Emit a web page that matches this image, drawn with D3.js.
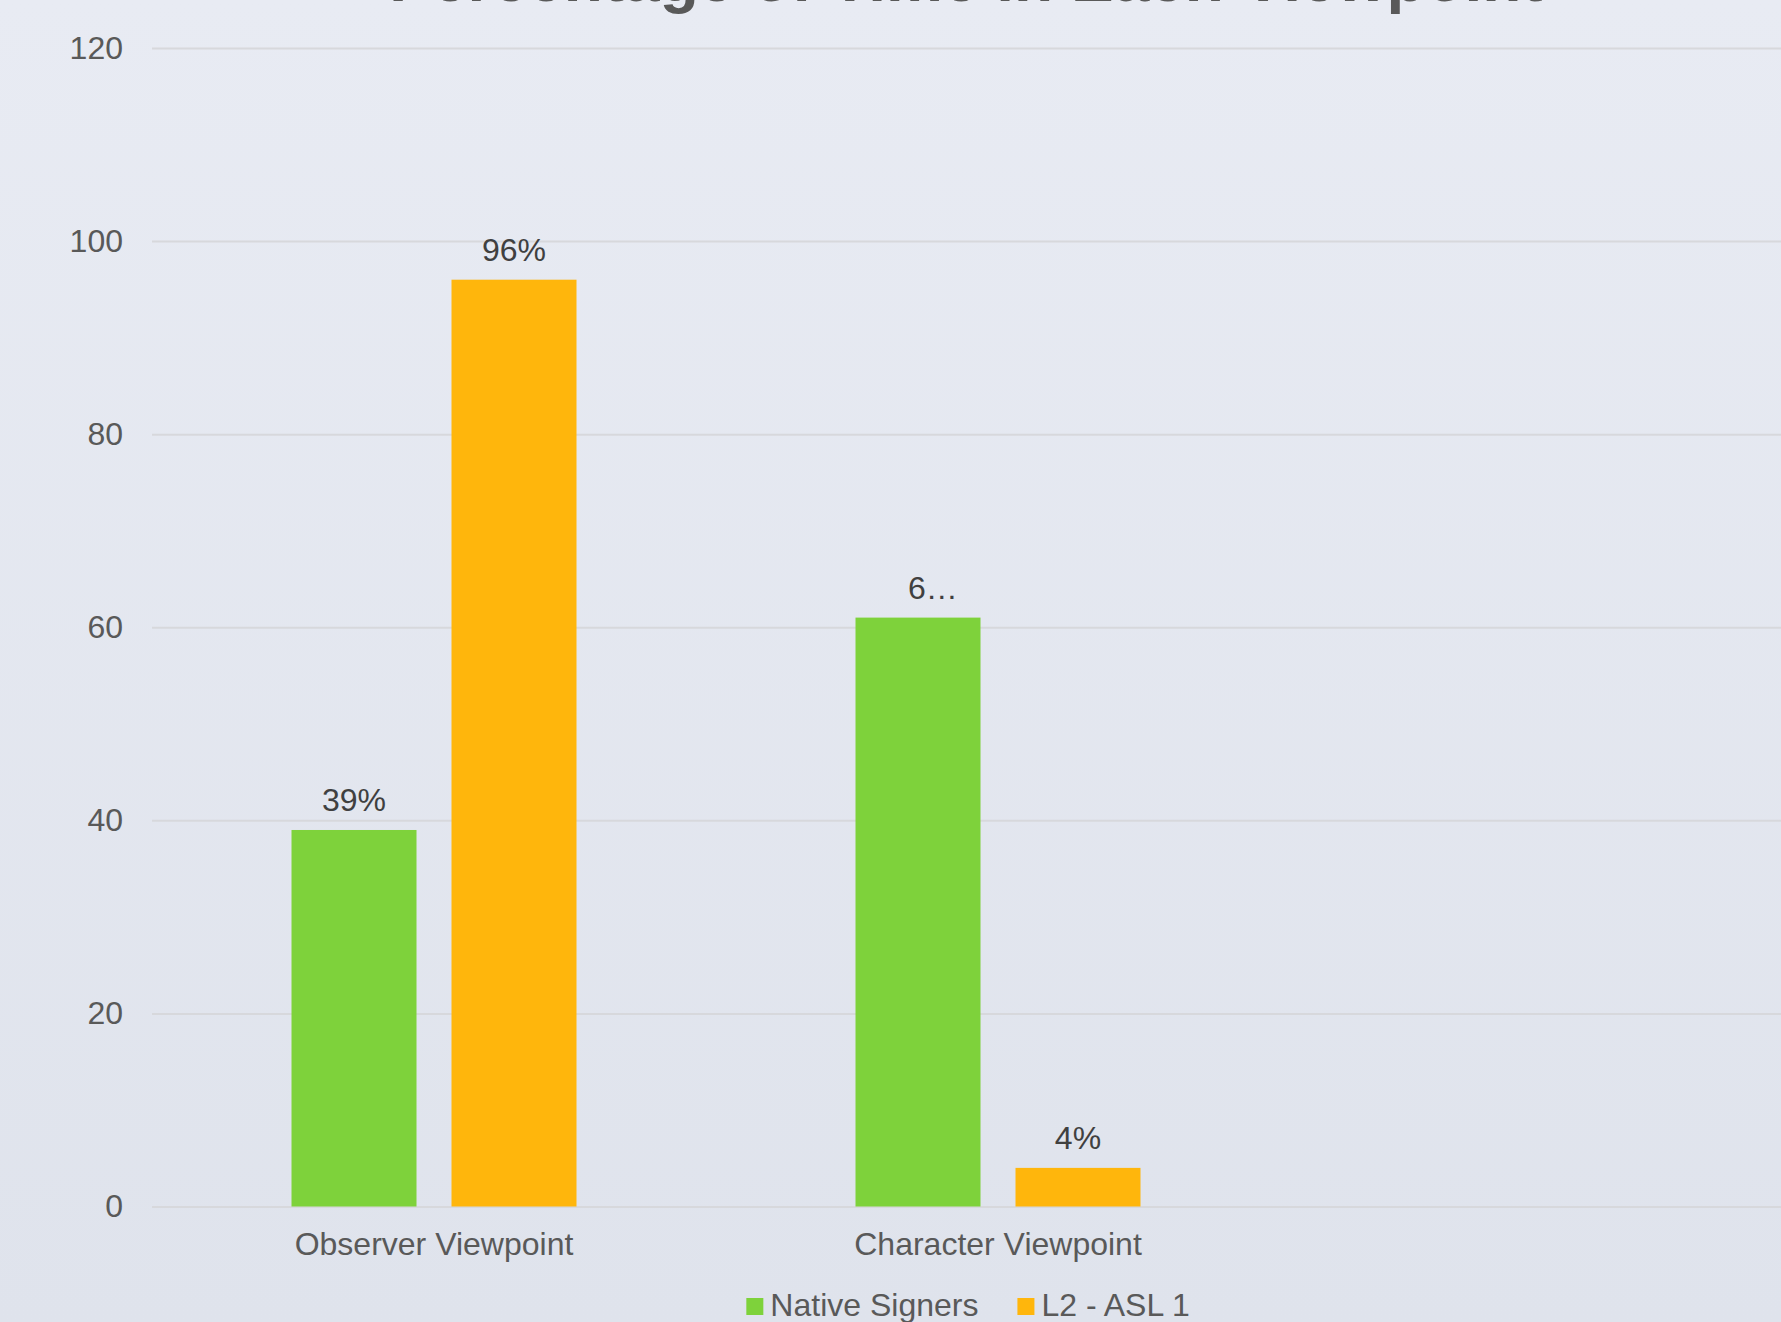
<!DOCTYPE html>
<html>
<head>
<meta charset="utf-8">
<script src="https://cdn.jsdelivr.net/npm/d3@7"></script>
<style>
  body { margin: 0; }
  svg { display: block; font-family: "Liberation Sans", Arial, sans-serif; }
</style>
</head>
<body>
<script>
// data
var categories = ["Observer Viewpoint", "Character Viewpoint", ""];
var seriesNames = ["Native Signers", "L2 - ASL 1"];
var nativeSigners = [39, 61, null];
var l2Asl1 = [96, 4, null];
var nativeLabels = ["39%", "6\u2026", ""];
var l2Labels = ["96%", "4%", ""];
var yTicks = [0, 20, 40, 60, 80, 100, 120];
var colors = ["#7ed23b", "#ffb60c"];
var title = "Percentage of Time in Each Viewpoint";

var width = 1781, height = 1322;
var plotLeft = 152, plotRight = 1844, plotTop = 48, plotBottom = 1206.5;

var svg = d3.select("body").append("svg")
   .attr("width", width)
   .attr("height", height);

// background
var grad = svg.append("defs").append("linearGradient")
   .attr("id", "bg").attr("x1", 0).attr("y1", 0).attr("x2", 0).attr("y2", 1);
grad.append("stop").attr("offset", "0%").attr("stop-color", "#e8ebf3");
grad.append("stop").attr("offset", "100%").attr("stop-color", "#dfe3ec");
svg.append("rect").attr("width", width).attr("height", height).attr("fill", "url(#bg)");

// scales
var x0 = d3.scaleBand().domain(categories).range([plotLeft, plotRight])
   .paddingInner(0.4947).paddingOuter(0.24735);
var x1 = d3.scaleBand().domain(seriesNames).range([0, x0.bandwidth()])
   .paddingInner(0.21875);
var y = d3.scaleLinear().domain([0, 120]).range([plotBottom, plotTop]);

// y axis + gridlines
var yAxis = svg.append("g")
   .attr("transform", "translate(" + plotLeft + ",0)")
   .call(d3.axisLeft(y).tickValues(yTicks).tickSize(-(width - plotLeft)).tickPadding(29));
yAxis.select(".domain").remove();
yAxis.selectAll(".tick line").attr("stroke", "#d7d8dc").attr("stroke-width", 2);
yAxis.selectAll(".tick text")
   .attr("fill", "#595959")
   .style("font-size", "32px")
   .style("font-family", "Liberation Sans, Arial, sans-serif");

// x axis labels
var xAxis = svg.append("g")
   .attr("transform", "translate(0," + plotBottom + ")")
   .call(d3.axisBottom(x0).tickSize(0).tickPadding(26));
xAxis.select(".domain").remove();
xAxis.selectAll(".tick text")
   .attr("fill", "#595959")
   .style("font-size", "32px")
   .style("font-family", "Liberation Sans, Arial, sans-serif");

// bars
var rows = categories.map(function(c, i) {
  return [
    {cat: c, s: seriesNames[0], v: nativeSigners[i], label: nativeLabels[i], color: colors[0]},
    {cat: c, s: seriesNames[1], v: l2Asl1[i], label: l2Labels[i], color: colors[1]}
  ];
});
var bars = d3.merge(rows).filter(function(d) { return d.v != null; });

svg.selectAll(".bar")
  .data(bars)
  .enter().append("rect")
  .attr("class", "bar")
  .attr("x", function(d) { return x0(d.cat) + x1(d.s); })
  .attr("y", function(d) { return y(d.v); })
  .attr("width", x1.bandwidth())
  .attr("height", function(d) { return y(0) - y(d.v); })
  .attr("fill", function(d) { return d.color; });

// value labels (truncated ones sit left-aligned like the original)
svg.selectAll(".vlabel")
  .data(bars)
  .enter().append("text")
  .attr("class", "vlabel")
  .attr("x", function(d) { return x0(d.cat) + x1(d.s) + x1.bandwidth() / 2; })
  .attr("y", function(d) { return y(d.v) - 19; })
  .attr("dx", function(d) { return d.label.indexOf("\u2026") >= 0 ? -10 : 0; })
  .style("text-anchor", function(d) { return d.label.indexOf("\u2026") >= 0 ? "start" : "middle"; })
  .style("font-size", "32px")
  .attr("fill", "#404040")
  .text(function(d) { return d.label; });

// title (cut off at the top, like the source)
svg.append("text")
  .attr("x", 966)
  .attr("y", 1)
  .style("text-anchor", "middle")
  .style("font-size", "64px")
  .style("font-weight", "bold")
  .attr("fill", "#595959")
  .text(title);

// legend
var legend = svg.append("g");
var lx = 0;
seriesNames.forEach(function(s, i) {
  var g = legend.append("g").attr("transform", "translate(" + lx + ",0)");
  g.append("rect").attr("x", 0).attr("y", -18).attr("width", 17).attr("height", 17).attr("fill", colors[i]);
  var t = g.append("text").attr("x", 24).attr("y", 0)
     .style("font-size", "32px").attr("fill", "#595959").text(s);
  lx += 24 + t.node().getComputedTextLength() + 39;
});
var lw = lx - 39;
legend.attr("transform", "translate(" + (968 - lw / 2) + ",1316)");
</script>
</body>
</html>
